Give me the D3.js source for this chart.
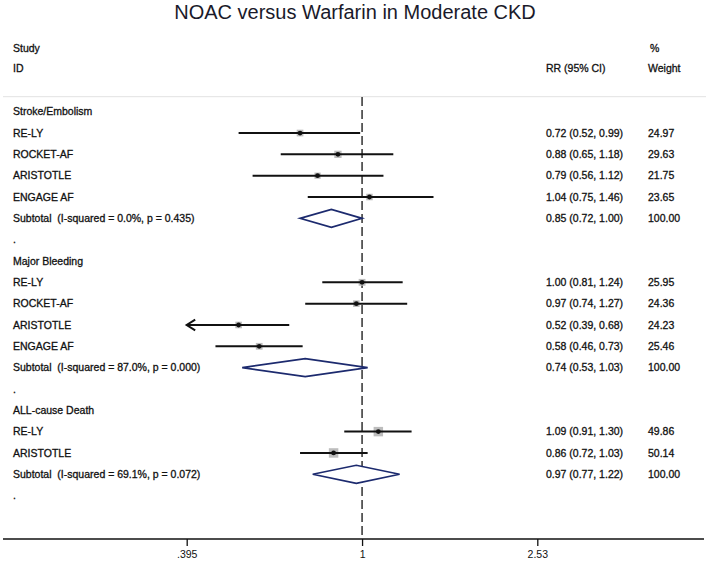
<!DOCTYPE html>
<html>
<head>
<meta charset="utf-8">
<script src="https://cdn.jsdelivr.net/npm/d3@7"></script>
<style>
  body { margin: 0; background: #fff; }
  text { font-family: "Liberation Sans", Arial, sans-serif; fill: #111; white-space: pre; }
  .tbl text { stroke: #111; stroke-width: 0.3px; }
</style>
</head>
<body>
<svg id="forest" width="708" height="564"></svg>
<script>
// rows, top to bottom
const labels = [
    "Stroke/Embolism", "RE-LY", "ROCKET-AF", "ARISTOTLE", "ENGAGE AF",
    "Subtotal  (I-squared = 0.0%, p = 0.435)", ".",
    "Major Bleeding", "RE-LY", "ROCKET-AF", "ARISTOTLE", "ENGAGE AF",
    "Subtotal  (I-squared = 87.0%, p = 0.000)", ".",
    "ALL-cause Death", "RE-LY", "ARISTOTLE",
    "Subtotal  (I-squared = 69.1%, p = 0.072)", "."
];
// "g" group heading, "s" study, "t" subtotal, "b" blank
const kinds = ["g","s","s","s","s","t","b","g","s","s","s","s","t","b","g","s","s","t","b"];
const rr     = [null,0.72,0.88,0.79,1.04,0.85,null,null,1.00,0.97,0.52,0.58,0.74,null,null,1.09,0.86,0.97,null];
const lower  = [null,0.52,0.65,0.56,0.75,0.72,null,null,0.81,0.74,0.39,0.46,0.53,null,null,0.91,0.72,0.77,null];
const upper  = [null,0.99,1.18,1.12,1.46,1.00,null,null,1.24,1.27,0.68,0.73,1.03,null,null,1.30,1.03,1.22,null];
const weight = [null,24.97,29.63,21.75,23.65,100,null,null,25.95,24.36,24.23,25.46,100,null,null,49.86,50.14,100,null];
const tickValues = [0.395, 1, 2.53];
const tickLabels = [".395", "1", "2.53"];

let svg = d3.select("svg#forest");

let x = d3.scaleLog().domain([0.395, 2.53]).range([186.7, 537.3]);
let y = d3.scaleLinear().domain([0, labels.length - 1]).range([111.7, 495.6]);
let axisY = 539;
let fs = "10.5px";

let rows = labels.map((label, i) => ({
    label: label, kind: kinds[i], rr: rr[i], lo: lower[i], hi: upper[i], w: weight[i], i: i
}));

// title
svg.append("text")
    .attr("x", 355).attr("y", 18.5)
    .attr("text-anchor", "middle")
    .style("font-size", "20px")
    .style("fill", "#1a1a2a")
    .text("NOAC versus Warfarin in Moderate CKD");

// column headers
let header = svg.append("g").attr("class", "tbl").style("font-size", fs);
header.append("text").attr("x", 13).attr("y", 48).attr("dy", "0.35em").text("Study");
header.append("text").attr("x", 13).attr("y", 68.5).attr("dy", "0.35em").text("ID");
header.append("text").attr("x", 546).attr("y", 68.5).attr("dy", "0.35em").text("RR (95% CI)");
header.append("text").attr("x", 650).attr("y", 48).attr("dy", "0.35em").text("%");
header.append("text").attr("x", 648).attr("y", 68.5).attr("dy", "0.35em").text("Weight");

// faint rule under the headers
svg.append("line")
    .attr("x1", 3).attr("x2", 706)
    .attr("y1", 96.7).attr("y2", 96.7)
    .attr("stroke", "#e2e2e2").attr("stroke-width", 1);

// null line
svg.append("line")
    .attr("x1", x(1)).attr("x2", x(1))
    .attr("y1", 97).attr("y2", axisY)
    .attr("stroke", "#111").attr("stroke-width", 1.3)
    .attr("stroke-dasharray", "9,4");

// labels
svg.append("g").attr("class", "tbl").style("font-size", fs)
    .selectAll("text")
    .data(rows)
    .enter().append("text")
        .attr("x", 13)
        .attr("y", (d) => y(d.i))
        .attr("dy", "0.35em")
        .text((d) => d.label);

// RR and weight columns
let withEst = rows.filter((d) => d.rr !== null);
let cols = svg.append("g").attr("class", "tbl").style("font-size", fs);
cols.selectAll("text.rr")
    .data(withEst)
    .enter().append("text")
        .attr("class", "rr")
        .attr("x", 546)
        .attr("y", (d) => y(d.i))
        .attr("dy", "0.35em")
        .text((d) => d.rr.toFixed(2) + " (" + d.lo.toFixed(2) + ", " + d.hi.toFixed(2) + ")");
cols.selectAll("text.wt")
    .data(withEst)
    .enter().append("text")
        .attr("class", "wt")
        .attr("x", 648)
        .attr("y", (d) => y(d.i))
        .attr("dy", "0.35em")
        .text((d) => d.w.toFixed(2));

// studies: box, CI line, dot
let [xmin, xmax] = x.domain();
let studies = rows.filter((d) => d.kind === "s");
let side = (w) => 1.34 * Math.sqrt(w);

let sg = svg.append("g").selectAll("g.study")
    .data(studies)
    .enter().append("g")
        .attr("class", "study")
        .attr("transform", (d) => "translate(0," + y(d.i) + ")");

sg.append("rect")
    .attr("x", (d) => x(d.rr) - side(d.w) / 2)
    .attr("y", (d) => -side(d.w) / 2)
    .attr("width", (d) => side(d.w))
    .attr("height", (d) => side(d.w))
    .attr("fill", "#bdbdbd");

sg.append("line")
    .attr("x1", (d) => x(Math.max(d.lo, xmin)))
    .attr("x2", (d) => x(Math.min(d.hi, xmax)))
    .attr("y1", 0).attr("y2", 0)
    .attr("stroke", "#111").attr("stroke-width", 2);

// arrow where the CI runs off the scale
sg.filter((d) => d.lo < xmin)
    .append("path")
    .attr("d", (d) => {
        let tip = x(xmin);
        return "M" + (tip + 8.5) + ",-5.3L" + tip + ",0L" + (tip + 8.5) + ",5.3";
    })
    .attr("fill", "none")
    .attr("stroke", "#111").attr("stroke-width", 2);

sg.append("circle")
    .attr("cx", (d) => x(d.rr))
    .attr("cy", 0)
    .attr("r", 2.4)
    .attr("fill", "#111");

// subtotal diamonds
svg.append("g").selectAll("path")
    .data(rows.filter((d) => d.kind === "t"))
    .enter().append("path")
        .attr("d", (d) => {
            let cy = y(d.i), h = 9;
            return "M" + x(d.lo) + "," + cy +
                "L" + x(d.rr) + "," + (cy - h) +
                "L" + x(d.hi) + "," + cy +
                "L" + x(d.rr) + "," + (cy + h) + "Z";
        })
        .attr("fill", "#fff")
        .attr("stroke", "#1c2a6e")
        .attr("stroke-width", 1.7);

// bottom axis
svg.append("line")
    .attr("x1", 3).attr("x2", 704)
    .attr("y1", axisY).attr("y2", axisY)
    .attr("stroke", "#111").attr("stroke-width", 1.3);

let axis = d3.axisBottom(x)
    .tickValues(tickValues)
    .tickFormat((d, i) => tickLabels[i])
    .tickSize(7)
    .tickPadding(5);

let ax = svg.append("g")
    .attr("transform", "translate(0," + axisY + ")")
    .call(axis);
ax.select(".domain").remove();
ax.selectAll(".tick line").attr("stroke", "#111").attr("stroke-width", 1.3);
ax.selectAll(".tick text")
    .style("font-size", fs)
    .style("font-family", "'Liberation Sans', Arial, sans-serif")
    .attr("fill", "#111");
</script>
</body>
</html>
